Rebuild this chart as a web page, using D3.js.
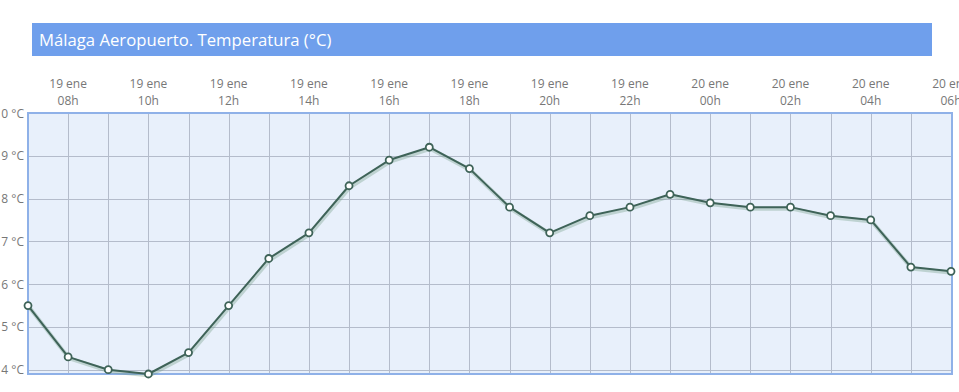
<!DOCTYPE html>
<html>
<head>
<meta charset="utf-8">
<script src="https://cdn.jsdelivr.net/npm/d3@7"></script>
<style>
    body { margin: 0; background: #fff; font-family: "Open Sans", sans-serif; }
    svg { display: block; }
</style>
</head>
<body>
<div id="chart"></div>
<script>
// Hourly temperature readings, 19 ene 07h -> 20 ene 06h
const days = ["19 ene", "19 ene", "19 ene", "19 ene", "19 ene", "19 ene", "19 ene", "19 ene",
    "19 ene", "19 ene", "19 ene", "19 ene", "19 ene", "19 ene", "19 ene", "19 ene", "19 ene",
    "20 ene", "20 ene", "20 ene", "20 ene", "20 ene", "20 ene", "20 ene"];
const hours = ["07h", "08h", "09h", "10h", "11h", "12h", "13h", "14h", "15h", "16h", "17h", "18h",
    "19h", "20h", "21h", "22h", "23h", "00h", "01h", "02h", "03h", "04h", "05h", "06h"];
const temps = [5.5, 4.3, 4.0, 3.9, 4.4, 5.5, 6.6, 7.2, 8.3, 8.9, 9.2, 8.7,
    7.8, 7.2, 7.6, 7.8, 8.1, 7.9, 7.8, 7.8, 7.6, 7.5, 6.4, 6.3];
const yTicks = [4, 5, 6, 7, 8, 9, 10];

const title = "Málaga Aeropuerto. Temperatura (°C)";

function drawChart() {
    const width = 959;
    const height = 392;
    const plot = { left: 28, right: 951, top: 113, bottom: 374 };

    const svg = d3.select("#chart")
        .append("svg")
        .attr("width", width)
        .attr("height", height);

    // Title bar
    svg.append("rect")
        .attr("x", 32)
        .attr("y", 23)
        .attr("width", 900)
        .attr("height", 33)
        .attr("fill", "#6f9fec");
    svg.append("text")
        .attr("x", 39)
        .attr("y", 45.5)
        .attr("fill", "#fff")
        .style("font-size", "16.7px")
        .text(title);

    const xScale = d3.scalePoint()
        .domain(d3.range(temps.length))
        .range([plot.left, plot.right]);

    const yScale = d3.scaleLinear()
        .domain([3.9, 10])
        .range([plot.bottom, plot.top]);

    // Plot background
    svg.append("rect")
        .attr("x", plot.left)
        .attr("y", plot.top)
        .attr("width", plot.right - plot.left + 1)
        .attr("height", plot.bottom - plot.top)
        .attr("fill", "#e8f0fb");

    // Vertical gridlines (every hour)
    svg.append("g")
        .selectAll("line")
        .data(d3.range(1, temps.length))
        .join("line")
        .attr("x1", (d) => Math.round(xScale(d)) + 0.5)
        .attr("x2", (d) => Math.round(xScale(d)) + 0.5)
        .attr("y1", plot.top)
        .attr("y2", plot.bottom)
        .attr("stroke", "#b4bccb")
        .attr("stroke-width", 1);

    // Horizontal gridlines
    svg.append("g")
        .selectAll("line")
        .data(yTicks.filter((d) => d < 10))
        .join("line")
        .attr("x1", plot.left)
        .attr("x2", plot.right + 1)
        .attr("y1", (d) => Math.round(yScale(d)) + 0.5)
        .attr("y2", (d) => Math.round(yScale(d)) + 0.5)
        .attr("stroke", "#b4bccb")
        .attr("stroke-width", 1);

    // Plot border
    svg.append("rect")
        .attr("x", plot.left)
        .attr("y", plot.top)
        .attr("width", plot.right - plot.left + 1)
        .attr("height", plot.bottom - plot.top)
        .attr("fill", "none")
        .attr("stroke", "#8fb1e8")
        .attr("stroke-width", 2);

    // Y axis labels (the leftmost digits fall off the page, as in the original)
    svg.append("g")
        .selectAll("text")
        .data(yTicks)
        .join("text")
        .attr("x", 24)
        .attr("y", (d) => yScale(d) + 4.5)
        .attr("text-anchor", "end")
        .attr("fill", "#777")
        .style("font-size", "12px")
        .text((d) => `${d} °C`);

    // X axis labels on top (every 2 hours, starting at 08h)
    const xLabels = d3.range(1, temps.length, 2);
    const xl = svg.append("g")
        .selectAll("text")
        .data(xLabels)
        .join("text")
        .attr("text-anchor", "middle")
        .attr("fill", "#777")
        .style("font-size", "12px");
    xl.append("tspan")
        .attr("x", (d) => xScale(d))
        .attr("y", 88)
        .text((d) => days[d]);
    xl.append("tspan")
        .attr("x", (d) => xScale(d))
        .attr("y", 105)
        .text((d) => hours[d]);

    const line = d3.line()
        .x((d, i) => xScale(i))
        .y((d) => yScale(d));

    // Soft shadow under the line
    svg.append("path")
        .datum(temps)
        .attr("d", line)
        .attr("transform", "translate(1,1.5)")
        .attr("fill", "none")
        .attr("stroke", "#6f9a85")
        .attr("stroke-opacity", 0.35)
        .attr("stroke-width", 4);

    svg.append("path")
        .datum(temps)
        .attr("d", line)
        .attr("fill", "none")
        .attr("stroke", "#3e6358")
        .attr("stroke-width", 2)
        .attr("stroke-linejoin", "round");

    svg.append("g")
        .selectAll("circle")
        .data(temps)
        .join("circle")
        .attr("cx", (d, i) => xScale(i))
        .attr("cy", (d) => yScale(d))
        .attr("r", 3.5)
        .attr("fill", "#fff")
        .attr("stroke", "#3e6358")
        .attr("stroke-width", 1.8);
}

drawChart();
</script>
</body>
</html>
